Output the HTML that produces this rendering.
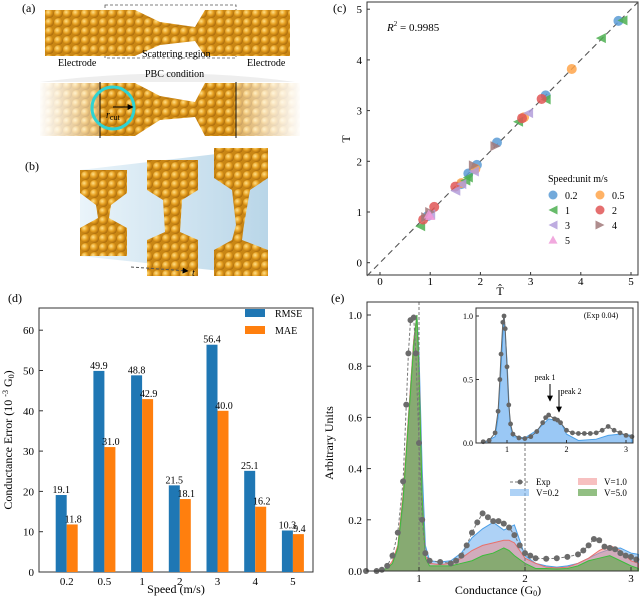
<!DOCTYPE html>
<html><head><meta charset="utf-8">
<style>
html,body{margin:0;padding:0;background:#fff;}
svg{display:block;font-family:"Liberation Serif",serif;}
</style></head>
<body>
<svg id="fig" width="640" height="599" viewBox="0 0 640 599">
<defs>
<radialGradient id="atomg" cx="0.35" cy="0.35" r="0.7">
<stop offset="0" stop-color="#ffe08a"/><stop offset="0.5" stop-color="#e6a021"/><stop offset="1" stop-color="#a8680a"/>
</radialGradient>
<pattern id="gold" x="0" y="0" width="9" height="9" patternUnits="userSpaceOnUse">
<rect width="9" height="9" fill="#c98614"/>
<circle cx="4.5" cy="4.5" r="4.4" fill="url(#atomg)"/>
</pattern>
<linearGradient id="fadeL" x1="0" x2="1"><stop offset="0" stop-color="#fff" stop-opacity="1"/><stop offset="1" stop-color="#fff" stop-opacity="0.3"/></linearGradient>
<linearGradient id="fadeR" x1="0" x2="1"><stop offset="0" stop-color="#fff" stop-opacity="0.3"/><stop offset="1" stop-color="#fff" stop-opacity="1"/></linearGradient>
<linearGradient id="blueBg" x1="0" x2="1"><stop offset="0" stop-color="#eaf4fa"/><stop offset="1" stop-color="#b9d6e8"/></linearGradient>
<marker id="arrowHead" viewBox="0 0 10 10" refX="9" refY="5" markerWidth="6" markerHeight="6" orient="auto"><path d="M0,0 L10,5 L0,10 z" fill="#000"/></marker>
</defs>

<!-- Panel a -->
<g>
<text x="22" y="12" font-size="12">(a)</text>
<rect x="105" y="5" width="131" height="53" fill="none" stroke="#555" stroke-dasharray="3,2" stroke-width="0.8"/>
<path d="M45,10 L135,10 L160,22 L195,27 L205,10 L290,10 L290,56 L205,56 L195,41 L160,45 L135,56 L45,56 Z" fill="url(#gold)"/>
<text x="58" y="66" font-size="10">Electrode</text>
<text x="247" y="66" font-size="10">Electrode</text>
<text x="142" y="57" font-size="10">Scattering region</text>
<path d="M40,82 Q175,65 295,82 Z" fill="#eee"/>
<text x="145" y="77" font-size="10">PBC condition</text>
<path d="M40,83 L135,83 L160,96 L195,102 L205,83 L300,83 L300,136 L205,136 L195,117 L160,120 L135,136 L40,136 Z" fill="url(#gold)"/>
<rect x="38" y="82" width="62" height="56" fill="url(#fadeL)"/>
<rect x="236" y="82" width="66" height="56" fill="url(#fadeR)"/>
<line x1="100" y1="82" x2="100" y2="138" stroke="#111" stroke-width="1"/>
<line x1="236" y1="82" x2="236" y2="138" stroke="#111" stroke-width="1"/>
<circle cx="113" cy="108" r="21" fill="none" stroke="#2ed3d3" stroke-width="3"/>
<line x1="113" y1="107" x2="133" y2="107" stroke="#000" stroke-width="1" marker-end="url(#arrowHead)"/>
<text x="106" y="118" font-size="10" font-style="italic">r<tspan font-size="8" font-style="normal" dy="2">cut</tspan></text>
</g>

<!-- Panel b -->
<g>
<text x="25" y="170" font-size="12">(b)</text>
<path d="M80,170 L268,148 L268,276 L80,256 Z" fill="url(#blueBg)"/>
<path d="M80,170 L127,170 L127,193 L111,205 L109,218 L127,228 L127,256 L80,256 L80,228 L98,218 L96,205 L80,193 Z" fill="url(#gold)"/>
<path d="M147,160 L198,160 L198,190 L182,200 L180,232 L198,240 L198,276 L147,276 L147,240 L165,232 L163,200 L147,190 Z" fill="url(#gold)"/>
<path d="M214,148 L268,148 L268,178 L250,190 L244,225 L242,240 L255,245 L268,250 L268,276 L214,276 L214,250 L232,240 L236,225 L232,190 L214,178 Z" fill="url(#gold)"/>
<line x1="131" y1="267" x2="188" y2="271" stroke="#555" stroke-dasharray="3,2" marker-end="url(#arrowHead)"/>
<text x="192" y="276" font-size="10" font-style="italic">t</text>
</g>

<!-- Panel c -->
<g id="pc">
<text x="333" y="12" font-size="12">(c)</text>
<rect x="367" y="2" width="271" height="273" fill="none" stroke="#333" stroke-width="1"/>
<text x="387" y="31" font-size="11"><tspan font-style="italic">R</tspan><tspan font-size="7" dy="-5">2</tspan><tspan dy="5"> = 0.9985</tspan></text>
<text x="500" y="295" font-size="12" text-anchor="middle">T̂</text>
<text x="350" y="139" font-size="12" text-anchor="middle" transform="rotate(-90 350 139)">T</text>
</g>

<!-- Panel d -->
<g id="pd">
<text x="8" y="302" font-size="12">(d)</text>
<rect x="39" y="308" width="274" height="264" fill="none" stroke="#333" stroke-width="1"/>
<text x="176" y="593" font-size="12" text-anchor="middle">Speed (m/s)</text>
<text x="12" y="440" font-size="12" text-anchor="middle" transform="rotate(-90 12 440)">Conductance Error (10 <tspan font-size="8" dy="-4">-3</tspan><tspan dy="4"> G</tspan><tspan font-size="8" dy="2">0</tspan><tspan dy="-2">)</tspan></text>
<rect x="245" y="309" width="20" height="8" fill="#1f77b4"/>
<text x="275" y="317" font-size="10">RMSE</text>
<rect x="245" y="326" width="20" height="8" fill="#ff7f0e"/>
<text x="275" y="334" font-size="10">MAE</text>
</g>

<!-- Panel e -->
<g id="pe">
<text x="331" y="302" font-size="12">(e)</text>
<text x="498" y="594" font-size="12" text-anchor="middle">Conductance (G<tspan font-size="8" dy="2">0</tspan><tspan dy="-2">)</tspan></text>
<text x="333" y="443" font-size="12" text-anchor="middle" transform="rotate(-90 333 443)">Arbitrary Units</text>
</g>

<script>
// ===== Panel c data =====
const cSpeeds = ['0.2','0.5','1','2','3','4','5'];
const cPredX_02 = [4.75,3.3,2.33,1.93,1.76,0.95,1.62];
const cTrueY_02 = [4.77,3.3,2.37,1.93,1.76,0.92,1.55];
const cPredX_05 = [3.82,2.87,1.62,1.9];
const cTrueY_05 = [3.82,2.87,1.57,1.85];
const cPredX_1 = [4.83,4.4,3.3,2.75,1.75,0.8,1.7];
const cTrueY_1 = [4.78,4.43,3.22,2.78,1.68,0.72,1.62];
const cPredX_2 = [3.22,2.83,1.5,1.08,0.86];
const cTrueY_2 = [3.23,2.85,1.5,1.1,0.85];
const cPredX_3 = [2.95,1.5,1.87,1.0,1.62];
const cTrueY_3 = [2.95,1.42,1.8,0.95,1.55];
const cPredX_4 = [2.3,1.87,1.0,0.92];
const cTrueY_4 = [2.3,1.92,1.0,0.9];
const cPredX_5 = [1.0,0.97];
const cTrueY_5 = [0.92,0.95];
const cTicks = [0,1,2,3,4,5];

// ===== Panel d data =====
const dCategories = ['0.2','0.5','1','2','3','4','5'];
const dRMSE = [19.1,49.9,48.8,21.5,56.4,25.1,10.3];
const dMAE = [11.8,31.0,42.9,18.1,40.0,16.2,9.4];
const dTicks = [0,10,20,30,40,50,60];

// ===== Panel e data =====
const eExpX = [0.5,0.6,0.65,0.7,0.75,0.8,0.85,0.88,0.9,0.92,0.95,0.97,1.0,1.03,1.06,1.1,1.2,1.3,1.35,1.4,1.45,1.5,1.55,1.6,1.65,1.7,1.75,1.8,1.85,1.9,1.95,2.0,2.05,2.1,2.2,2.3,2.4,2.5,2.55,2.6,2.65,2.7,2.75,2.8,2.85,2.9,2.95,3.0,3.05];
const eExpY = [0,0,0.005,0.02,0.06,0.15,0.35,0.65,0.85,0.98,0.99,0.85,0.5,0.2,0.07,0.04,0.035,0.03,0.04,0.06,0.1,0.15,0.19,0.225,0.21,0.195,0.195,0.185,0.17,0.14,0.1,0.07,0.06,0.05,0.048,0.05,0.055,0.065,0.08,0.1,0.125,0.12,0.095,0.09,0.085,0.07,0.06,0.055,0.045];
const eSimX = [0.5,0.6,0.7,0.75,0.8,0.85,0.9,0.95,0.98,1.0,1.03,1.06,1.1,1.2,1.3,1.4,1.5,1.6,1.7,1.8,1.85,1.9,1.95,2.0,2.1,2.2,2.3,2.4,2.5,2.6,2.7,2.8,2.9,3.0,3.07];
const eV02 = [0,0,0.01,0.03,0.08,0.25,0.6,0.9,1.0,0.85,0.4,0.1,0.04,0.035,0.04,0.07,0.13,0.165,0.19,0.16,0.17,0.18,0.12,0.06,0.03,0.02,0.015,0.02,0.03,0.05,0.07,0.085,0.09,0.07,0.065];
const eV10 = [0,0,0.01,0.04,0.1,0.3,0.6,0.9,1.0,0.8,0.3,0.06,0.03,0.025,0.03,0.05,0.08,0.1,0.11,0.12,0.12,0.11,0.08,0.05,0.03,0.015,0.012,0.015,0.03,0.05,0.08,0.1,0.08,0.04,0.03];
const eV50 = [0,0,0.01,0.03,0.09,0.28,0.58,0.88,1.0,0.78,0.28,0.05,0.02,0.02,0.02,0.03,0.04,0.06,0.07,0.09,0.08,0.06,0.045,0.03,0.01,0.01,0.008,0.01,0.02,0.04,0.05,0.06,0.04,0.02,0.01];
const eTicksX = [1,2,3];
const eTicksY = [0,0.2,0.4,0.6,0.8,1.0];
// inset
const iExpX = [0.6,0.7,0.8,0.85,0.88,0.9,0.93,0.95,0.97,1.0,1.03,1.06,1.1,1.2,1.3,1.4,1.5,1.6,1.65,1.7,1.8,1.85,1.9,2.0,2.1,2.2,2.3,2.4,2.5,2.6,2.7,2.8,2.9,3.0,3.1];
const iExpY = [0.01,0.02,0.08,0.25,0.5,0.7,0.95,1.0,0.9,0.6,0.3,0.15,0.07,0.04,0.035,0.05,0.09,0.16,0.2,0.22,0.19,0.18,0.16,0.1,0.08,0.075,0.075,0.075,0.08,0.1,0.13,0.1,0.08,0.06,0.05];
const iSimX = [0.5,0.6,0.8,0.85,0.9,0.95,1.0,1.05,1.1,1.3,1.5,1.7,1.8,1.9,1.95,2.0,2.2,2.5,2.7,2.9,3.1];
const iSimY = [0,0,0.05,0.2,0.6,1.0,0.65,0.15,0.05,0.04,0.1,0.19,0.18,0.17,0.12,0.07,0.02,0.03,0.06,0.07,0.06];
const iTicksX = [1,2,3];
const iTicksY = [0,0.5,1.0];

const NS='http://www.w3.org/2000/svg';
function mk(parent,tag,attrs){const e=document.createElementNS(NS,tag);for(const k in attrs)e.setAttribute(k,attrs[k]);parent.appendChild(e);return e;}
function txt(parent,x,y,s,size,anchor){const t=mk(parent,'text',{x:x,y:y,'font-size':size,'text-anchor':anchor||'middle'});t.textContent=s;return t;}

// ---- Panel c ----
const pc=document.getElementById('pc');
const cx=v=>380+v*50.2, cy=v=>262.7-v*50.7;
cTicks.forEach(v=>{
  mk(pc,'line',{x1:cx(v),y1:275,x2:cx(v),y2:272,stroke:'#333'});
  const t=txt(pc,cx(v),285,String(v),11);
  
  
  mk(pc,'line',{x1:367,y1:cy(v),x2:370,y2:cy(v),stroke:'#333'});
  const t2=txt(pc,362,cy(v)+4,String(v),11,'end');
  
  
});
const diag=mk(pc,'line',{x1:367,y1:cy((367-380)/50.2),x2:638,y2:cy((638-380)/50.2),stroke:'#555','stroke-dasharray':'6,4','stroke-width':1.1});


const cColors=['#5b9bd5','#ffa54a','#4caf50','#e05656','#b39ddb','#a1797a','#ef9ad8'];
const cShapes=['circle','circle','left','circle','left','right','up'];
const cXs=[cPredX_02,cPredX_05,cPredX_1,cPredX_2,cPredX_3,cPredX_4,cPredX_5];
const cYs=[cTrueY_02,cTrueY_05,cTrueY_1,cTrueY_2,cTrueY_3,cTrueY_4,cTrueY_5];
function marker(parent,shape,x,y,color,r){
  let e;
  if(shape==='circle') e=mk(parent,'circle',{cx:x,cy:y,r:r,fill:color,'fill-opacity':0.85});
  else{
    let p;
    if(shape==='left') p=[[x-r,y],[x+r,y-r],[x+r,y+r]];
    else if(shape==='right') p=[[x+r,y],[x-r,y-r],[x-r,y+r]];
    else p=[[x,y-r],[x-r,y+r*0.8],[x+r,y+r*0.8]];
    e=mk(parent,'polygon',{points:p.map(q=>q.join(',')).join(' '),fill:color,'fill-opacity':0.85});
  }
  return e;
}
cXs.forEach((xs,i)=>{
  xs.forEach((xv,j)=>{
    const m=marker(pc,cShapes[i],cx(xv),cy(cYs[i][j]),cColors[i],5);
    
    
  });
});
const lt=txt(pc,548,182,'Speed:unit m/s',10,'start');


cSpeeds.forEach((s,i)=>{
  const col=i%2, row=Math.floor(i/2);
  const mx=col?600:553, my=195+row*15;
  const m=marker(pc,cShapes[i],mx,my,cColors[i],4.5);
  
  
  const t=txt(pc,mx+12,my+4,s,10,'start');
  
  
});

// ---- Panel d ----
const pd=document.getElementById('pd');
const dx=i=>66.7+i*37.7, dy=v=>572-v*4.03;
dTicks.forEach(v=>{
  mk(pd,'line',{x1:39,y1:dy(v),x2:43,y2:dy(v),stroke:'#333'});
  const t=txt(pd,34,dy(v)+4,String(v),11,'end');
  
  
});
dCategories.forEach((c,i)=>{
  const t=txt(pd,dx(i),585,c,11);
  
  
  const b1=mk(pd,'rect',{x:dx(i)-11,y:dy(dRMSE[i]),width:11,height:572-dy(dRMSE[i]),fill:'#1f77b4'});
  
  
  const b2=mk(pd,'rect',{x:dx(i),y:dy(dMAE[i]),width:11,height:572-dy(dMAE[i]),fill:'#ff7f0e'});
  
  
  const l1=txt(pd,dx(i)-5.5,dy(dRMSE[i])-2,dRMSE[i].toFixed(1),10);
  
  
  const l2=txt(pd,dx(i)+6.5,dy(dMAE[i])-2,dMAE[i].toFixed(1),10);
  
  
});

// ---- Panel e ----
const pe=document.getElementById('pe');
const ex=v=>419+(v-1)*106, ey=v=>571-v*256;
function area(parent,xs,ys,fx,fy,fill,stroke,base){
  let d='M'+fx(xs[0])+','+fy(0);
  xs.forEach((x,i)=>{d+=' L'+fx(x)+','+fy(ys[i]);});
  d+=' L'+fx(xs[xs.length-1])+','+fy(0)+' Z';
  return mk(parent,'path',{d:d,fill:fill,stroke:stroke,'stroke-width':1});
}
const a1=area(pe,eSimX,eV02,ex,ey,'rgba(120,180,240,0.6)','#4a9fe8');


const a2=area(pe,eSimX,eV10,ex,ey,'rgba(240,140,140,0.55)','#e8706a');


const a3=area(pe,eSimX,eV50,ex,ey,'rgba(110,170,90,0.75)','#3cbc3c');


mk(pe,'line',{x1:ex(1),y1:302,x2:ex(1),y2:571,stroke:'#777','stroke-dasharray':'3,2'});
mk(pe,'line',{x1:ex(2),y1:443,x2:ex(2),y2:571,stroke:'#777','stroke-dasharray':'3,2'});
const expLine=mk(pe,'polyline',{points:eExpX.map((x,i)=>ex(x)+','+ey(eExpY[i])).join(' '),fill:'none',stroke:'#777','stroke-dasharray':'3,2'});


eExpX.forEach((x,i)=>{
  const p=mk(pe,'circle',{cx:ex(x),cy:ey(eExpY[i]),r:3,fill:'#6b6b6b'});
  
  
});
mk(pe,'rect',{x:367,y:302,width:271,height:269,fill:'none',stroke:'#333'});
eTicksX.forEach(v=>{
  mk(pe,'line',{x1:ex(v),y1:571,x2:ex(v),y2:567,stroke:'#333'});
  const t=txt(pe,ex(v),582,String(v),11);
  
  
});
eTicksY.forEach(v=>{
  mk(pe,'line',{x1:367,y1:ey(v),x2:371,y2:ey(v),stroke:'#333'});
  const t=txt(pe,362,ey(v)+4,v.toFixed(1),11,'end');
  
  
});
// legend
const lg=[['Exp',null,510,482],['V=0.2','rgba(120,180,240,0.6)',510,493],['V=1.0','rgba(240,140,140,0.55)',578,482],['V=5.0','rgba(110,170,90,0.75)',578,493]];
lg.forEach(l=>{
  if(l[1]){ const r=mk(pe,'rect',{x:l[2],y:l[3]-4,width:19,height:7,fill:l[1]});
    
    
  } else {
    mk(pe,'line',{x1:l[2],y1:l[3],x2:l[2]+19,y2:l[3],stroke:'#777','stroke-dasharray':'3,2'});
    mk(pe,'circle',{cx:l[2]+10,cy:l[3],r:2.5,fill:'#6b6b6b'});
  }
  const t=txt(pe,l[2]+26,l[3]+3,l[0],9,'start');
  
  
});
// inset
const ins=mk(pe,'g',{});


const ix=v=>507+(v-1)*59.5, iy=v=>443-v*127;
mk(ins,'rect',{x:476,y:308,width:157,height:135,fill:'#fff'});
const ia=area(ins,iSimX,iSimY,ix,iy,'rgba(100,170,240,0.65)','#4a9fe8');


const il=mk(ins,'polyline',{points:iExpX.map((x,i)=>ix(x)+','+iy(iExpY[i])).join(' '),fill:'none',stroke:'#666','stroke-width':1});


iExpX.forEach((x,i)=>{
  const p=mk(ins,'circle',{cx:ix(x),cy:iy(iExpY[i]),r:2.4,fill:'#666'});
  
  
});
mk(ins,'rect',{x:476,y:308,width:157,height:135,fill:'none',stroke:'#333'});
iTicksX.forEach(v=>{
  mk(ins,'line',{x1:ix(v),y1:443,x2:ix(v),y2:440,stroke:'#333'});
  const t=txt(ins,ix(v),452,String(v),8);
  
  
});
iTicksY.forEach(v=>{
  mk(ins,'line',{x1:476,y1:iy(v),x2:479,y2:iy(v),stroke:'#333'});
  const t=txt(ins,473,iy(v)+3,v.toFixed(1),8,'end');
  
  
});
const et=txt(ins,601,318,'(Exp  0.04)',8);


const p1=txt(ins,545,380,'peak 1',8);


mk(ins,'line',{x1:550,y1:384,x2:550,y2:401,stroke:'#000','marker-end':'url(#arrowHead)'});
const p2=txt(ins,571,394,'peak 2',8);


mk(ins,'line',{x1:559,y1:390,x2:559,y2:412,stroke:'#000','marker-end':'url(#arrowHead)'});
</script>
</svg>
</body></html>
